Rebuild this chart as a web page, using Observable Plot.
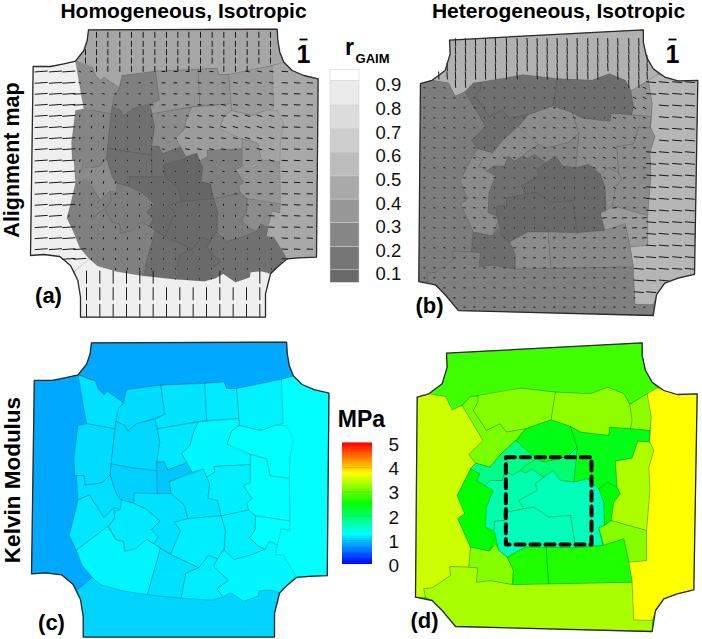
<!DOCTYPE html>
<html><head><meta charset="utf-8">
<script src="https://cdn.jsdelivr.net/npm/d3@7"></script>
<script src="https://cdn.jsdelivr.net/npm/@observablehq/plot@0.6"></script>
<style>html,body{margin:0;background:#fff}svg{display:block}</style>
</head><body><div id="chart"></div>
<script>
// ---- Tissue outlines (crop units)
const outlineA=[[204,88],[770,86],[772,120],[778,155],[790,185],[815,210],[850,225],[893,235],[888,770],[835,772],[800,775],[770,800],[750,820],[745,840],[735,880],[735,950],[180,950],[180,890],[172,840],[150,795],[118,768],[70,762],[30,765],[38,198],[90,198],[130,190],[165,182],[190,150],[200,120]];
const outlineB=[[138,68],[725,37],[725,75],[735,120],[755,155],[790,180],[830,192],[890,190],[880,778],[830,790],[790,805],[765,840],[755,903],[165,888],[125,840],[95,810],[45,800],[50,200],[85,190],[125,160],[140,110]];

// ---- Mesh A: the regions of panels (a) and (c)
const polygonsA=[
[[204,88],[770,86],[772,120],[778,155],[790,185],[755,195],[625,222],[595,222],[590,203],[405,212],[305,225],[295,262],[250,230],[240,240],[225,225],[215,200],[165,182],[190,150],[200,120]],
[[38,198],[90,198],[130,190],[165,182],[215,200],[210,400],[215,770],[162,813],[150,795],[118,768],[70,762],[30,765]],
[[162,813],[206,775],[250,790],[400,800],[600,800],[770,800],[750,820],[745,840],[735,880],[735,950],[180,950],[180,890],[172,840]],
[[755,195],[790,185],[815,210],[850,225],[893,235],[888,770],[835,772],[800,775],[770,800],[700,700],[700,400]],
[[165,182],[215,200],[225,225],[240,240],[250,230],[295,262],[275,318],[272,340],[190,325],[180,270]],
[[305,225],[405,212],[417,298],[385,310],[335,325],[310,347],[300,330],[275,318],[282,280],[298,265]],
[[405,212],[533,207],[538,315],[505,320],[395,340],[388,312],[417,298]],
[[533,207],[590,203],[595,222],[625,222],[632,310],[538,315]],
[[625,222],[755,195],[760,325],[735,330],[695,345],[632,330],[632,310]],
[[632,330],[695,345],[735,330],[770,330],[790,372],[780,420],[778,485],[722,478],[712,428],[665,415],[615,398],[597,385],[610,347]],
[[513,320],[632,310],[632,330],[610,347],[597,385],[665,415],[665,445],[560,450],[562,467],[538,482],[528,458],[495,468],[465,412],[490,388],[498,355]],
[[395,340],[513,320],[498,355],[490,388],[465,412],[480,440],[425,460],[415,437],[393,437],[402,380]],
[[165,330],[190,325],[272,340],[258,475],[235,498],[185,505],[183,477],[155,477],[153,425]],
[[275,318],[300,330],[310,347],[335,325],[388,312],[402,380],[393,437],[395,463],[328,455],[261,443],[272,340]],
[[261,443],[328,455],[395,463],[395,530],[328,528],[325,558],[290,548],[275,530],[258,475]],
[[393,437],[415,437],[425,460],[480,440],[495,465],[430,495],[435,530],[395,530]],
[[430,495],[528,458],[547,500],[542,543],[570,550],[580,595],[483,603],[473,563],[435,530]],
[[560,450],[665,445],[665,497],[645,507],[670,545],[655,558],[660,578],[580,595],[570,550],[542,543],[547,500],[538,482],[562,467]],
[[665,415],[712,428],[722,478],[778,485],[780,610],[680,595],[660,578],[655,558],[670,545],[645,507],[665,497]],
[[680,595],[780,610],[778,638],[755,632],[743,680],[720,670],[708,693],[688,683],[662,660],[678,637]],
[[580,595],[660,578],[680,595],[678,637],[662,660],[688,683],[708,693],[665,710],[618,723],[590,697],[592,637]],
[[588,694],[618,723],[665,710],[708,693],[720,670],[743,680],[738,708],[760,710],[797,770],[770,800],[752,820],[722,812],[690,815],[688,830],[645,845],[608,820],[585,833],[568,808],[601,784],[558,743],[569,721]],
[[483,603],[580,595],[592,637],[588,694],[569,721],[544,711],[515,747],[433,708],[462,638],[443,613]],
[[328,528],[395,530],[435,530],[473,563],[483,603],[443,613],[462,638],[433,708],[385,677],[397,657],[378,635],[403,610],[361,574],[325,558]],
[[290,548],[325,558],[361,574],[403,610],[378,635],[397,657],[385,677],[365,664],[333,692],[302,700],[298,670],[276,665],[254,627],[271,602],[270,582],[285,578]],
[[185,505],[235,498],[258,475],[275,530],[290,548],[288,576],[269,571],[240,600],[198,534],[165,548],[160,477],[183,477]],
[[165,548],[198,534],[240,600],[269,571],[271,602],[251,626],[160,696],[139,652],[151,608]],
[[160,696],[251,626],[274,665],[296,670],[300,699],[332,691],[364,664],[385,677],[404,690],[366,826],[288,813],[230,796],[206,775],[177,740]],
[[404,690],[433,708],[515,747],[478,763],[464,836],[366,826]],
[[515,747],[544,711],[569,721],[558,743],[601,784],[568,808],[585,833],[551,842],[464,836],[478,763]]
];
const rGaimA=[.45,.92,.92,.46,.27,.2,.33,.33,.37,.43,.38,.27,.23,.1,.09,.09,.03,.2,.33,.27,.18,.1,.06,.06,.18,.27,.2,.2,.08,.06];
const kelvinA=[.83,.83,1.04,1.25,1.1,1.08,1.12,1.15,1.18,1.25,1.21,1.13,1.08,1.06,1.02,.98,1.12,1.17,1.24,1.25,1.17,1.21,1.16,1.1,1.15,1.09,1.13,1.2,1.1,1.16];
const rotationA=[0,86,0,93,110,95,92,95,100,105,100,100,10,170,170,170,0,95,90,100,0,10,5,0,10,10,10,10,5,5];

// ---- Mesh B: the regions of panels (b) and (d)
const polygonsB=[
[[138,68],[725,37],[725,75],[735,120],[755,155],[770,172],[740,190],[688,222],[670,190],[622,170],[570,190],[465,185],[360,173],[325,185],[210,198],[185,225],[155,238],[135,198],[85,190],[125,160],[140,110]],
[[50,200],[85,190],[135,198],[155,238],[185,225],[248,330],[205,372],[225,398],[210,415],[170,495],[193,550],[172,565],[210,650],[205,710],[148,708],[150,735],[95,772],[70,775],[75,800],[45,800]],
[[70,775],[95,772],[150,735],[148,708],[205,710],[232,712],[228,755],[270,750],[335,762],[445,760],[695,755],[700,868],[755,870],[755,903],[165,888],[125,840],[95,810],[75,800]],
[[740,190],[770,172],[790,180],[830,192],[890,190],[880,778],[830,790],[790,805],[765,840],[755,870],[700,868],[695,755],[685,695],[738,690],[738,600],[748,480],[745,410],[760,360],[748,335],[752,260]],
[[232,195],[360,173],[465,185],[452,268],[375,295],[345,300],[318,305],[298,280],[258,300],[218,240],[232,215]],
[[465,185],[570,190],[622,170],[670,190],[688,222],[695,270],[690,295],[628,290],[625,315],[540,305],[510,288],[452,268]],
[[688,222],[740,190],[752,260],[748,300],[690,295],[695,270]],
[[185,225],[210,198],[232,197],[232,215],[218,240],[258,300],[298,280],[318,305],[345,300],[375,295],[345,330],[300,372],[268,410],[225,398],[205,372],[248,330]],
[[375,295],[452,268],[510,288],[530,350],[500,378],[432,395],[410,388],[380,370],[348,330]],
[[510,288],[540,305],[625,315],[628,290],[690,295],[748,300],[745,335],[712,332],[695,383],[645,392],[650,470],[620,455],[595,475],[560,445],[520,455],[530,350]],
[[268,410],[300,372],[345,330],[408,385],[375,405],[360,420],[335,435],[315,420],[305,450],[270,450],[252,465],[228,450],[238,430],[210,415],[225,398]],
[[408,385],[432,395],[500,378],[530,350],[520,455],[480,450],[458,420],[430,440],[408,425],[395,415],[375,428],[360,420],[375,405]],
[[210,415],[238,430],[228,450],[252,465],[278,480],[258,530],[255,590],[285,615],[267,662],[210,650],[172,565],[193,550],[170,495]],
[[252,465],[270,450],[305,450],[315,420],[335,435],[360,420],[375,428],[395,415],[408,425],[430,440],[405,460],[410,480],[355,510],[370,535],[310,547],[312,570],[283,572],[280,600],[255,590],[258,530],[278,480]],
[[430,440],[458,420],[480,450],[520,455],[560,445],[595,475],[610,515],[612,585],[595,592],[607,645],[525,652],[510,555],[445,560],[400,530],[370,535],[355,510],[410,480],[405,460]],
[[283,572],[312,570],[310,547],[370,535],[400,530],[445,560],[510,555],[525,652],[375,650],[320,680],[295,660],[285,615],[280,600]],
[[595,475],[620,455],[650,470],[660,490],[640,515],[632,570],[612,585],[610,515]],
[[712,332],[748,335],[760,360],[745,410],[748,480],[738,600],[632,570],[640,515],[660,490],[650,470],[645,392],[695,383]],
[[632,570],[738,600],[738,690],[685,695],[670,625],[610,645],[595,592],[612,585]],
[[320,680],[375,650],[437,650],[445,760],[338,762],[338,720]],
[[437,650],[525,652],[607,645],[670,625],[685,695],[695,755],[445,760]],
[[210,650],[267,662],[285,640],[295,660],[320,680],[338,720],[335,762],[270,750],[228,755],[232,712],[205,710]]
];
const rGaimB=[.52,.18,.2,.55,.1,.08,.33,.08,.27,.27,.27,.23,.27,.1,.05,.05,.27,.27,.37,.27,.26,.08];
const kelvinB=[2.81,3.5,3.33,3.75,3.15,3.2,3.2,3.1,2.4,2.4,1.83,1.95,2.5,1.65,1.6,1.6,2.5,3.35,3.15,2.65,2.65,3.15];
const rotationB=[-3,100,92,95,100,100,115,100,100,110,100,100,95,100,95,95,120,90,85,88,85,90];

// ---- Alignment-dash sampling rows and columns (crop units)
const topRowsA=[103,130,155,180,205];
const topColsA=[195,228,262,298,333,368,403,438,472,505,540,575,610,645,680,715,750];
const midRowsA=[213,247,280,313,346,380,413,446,480,513,546,580,613,646,680,713,746,775,805,835];
const midColsA=[62,105,145,178,213,249,285,321,357,393,429,465,501,537,573,609,645,681,717,753,793,830,868];
const lowRowsA=[830,880,930];
const lowColsA=[198,238,278,318,358,398,438,478,518,558,598,638,678,718];
const topRowsB=[125,150,175,200,225,250];
const topColsB=[115,140,165,195,225,255,285,318,350,380,410,440,470,500,530,562,592,622,652,685,715,740];
const midRowsB=[262,292,322,352,382,412,442,472,502,532,562,592,622,652,682,712,742,772,802,832,862,892,920];
const midColsB=[72,102,132,162,192,222,252,282,312,342,372,402,432,462,492,522,552,582,612,642,672,702,732];
const rightRowsB=[245,280,315,350,385,420,455,490,525,560,595,630,665,700,735,770,805,840,875];
const rightColsB=[715,752,790,830,868];

// ---- Legends
const gaimTicks=[.9,.8,.7,.6,.5,.4,.3,.2,.1];
const gaimEdges=[.966,.918,.815,.715,.616,.515,.417,.317,.216,.12,.065];
const gaimGreys=["#ffffff","#ebebeb","#dcdcdc","#cecece","#bcbcbc","#a9a9a9","#989898","#868686","#767676","#6a6a6a"];
const kelvinTicks=[5,4,3,2,1,0];
const kelvinGrid=[1,2,3,4];
const kelvinStops=[0,1.25,2.5,3.75,5];
const kelvinColors=["#0000ff","#00ffff","#00ff00","#ffff00","#ff0000"];
const dashedBox=[[316,380],[573,380],[573,642],[316,642],[316,380]];

// ---- Crop units to picture units for each panel
const panelA=([x,y])=>[20+x/3,y/3];
const panelC=([x,y])=>[20+(213+(x-204)*1.034)/3,330+(37+(y-88)*1.024)/3];
const panelB=([x,y])=>[400+(147+(x-138)/1.0094)/3,(88+(y-37)/1.0105)/3];
const panelD=([x,y])=>[400+x/3,330+y/3];
const bToD=(x,y)=>[138+(x-147)*1.0094,37+(y-88)*1.0105];

const grey=r=>{const g=Math.min(255,Math.round(97+154*r));return `rgb(${g},${g},${g})`};
const rows=(polys,vals,panel)=>polys.flatMap((p,i)=>[...p,p[0]].map(q=>{const [x,y]=panel(q);return {x,y,id:i,v:vals[i]}}));
const ring=(p,panel)=>[...p,p[0]].map(q=>{const [x,y]=panel(q);return {x,y}});
const dashLen=d3.scaleLinear([.03,.27,.45,.52,.55,.92],[1,2.6,6,8,10,13]);
function lattice(ys,xs,polys,rs,rot,panel,keep,toMesh){
  const out=[];
  for(const y of ys)for(const x of xs){
    const m=toMesh?toMesh(x,y):[x,y];
    if(!d3.polygonContains(panel.outline,m))continue;
    let z=-1;
    polys.forEach((p,i)=>{if(d3.polygonContains(p,m))z=i});
    if(z<0||!keep(z))continue;
    const [px,py]=panel.map([x,y]);
    const L=dashLen(rs[z])/2,t=rot[z]*Math.PI/180;
    out.push({x1:px-L*Math.sin(t),y1:py+L*Math.cos(t),x2:px+L*Math.sin(t),y2:py-L*Math.cos(t)});
  }
  return out;
}
const bRaw=([x,y])=>[400+x/3,y/3];
const dashesA=[
 ...lattice(topRowsA,topColsA,polygonsA,rGaimA,rotationA,{outline:outlineA,map:panelA},z=>z===0),
 ...lattice(midRowsA,midColsA,polygonsA,rGaimA,rotationA,{outline:outlineA,map:panelA},z=>z!==0&&z!==2),
 ...lattice(lowRowsA,lowColsA,polygonsA,rGaimA,rotationA,{outline:outlineA,map:panelA},z=>z===2)
];
const dashesB=[
 ...lattice(topRowsB,topColsB,polygonsB,rGaimB,rotationB,{outline:outlineB,map:bRaw},z=>z===0,bToD),
 ...lattice(midRowsB,midColsB,polygonsB,rGaimB,rotationB,{outline:outlineB,map:bRaw},z=>z!==0&&z!==3,bToD),
 ...lattice(rightRowsB,rightColsB,polygonsB,rGaimB,rotationB,{outline:outlineB,map:bRaw},z=>z===3,bToD)
];

const region=(data,fill,o=.3)=>Plot.line(data,{x:"x",y:"y",z:"id",fill,stroke:"#000",strokeOpacity:o,strokeWidth:.6});
const edge=data=>Plot.line(data,{x:"x",y:"y",stroke:"#2a2a2a",strokeWidth:1.3});
const under=(data,fill)=>Plot.line(data,{x:"x",y:"y",fill,stroke:"none"});
const greyFill=d=>grey(d.v);

const gaimY=d3.scaleLinear([.1,.9],[274,85]);
const kelvinY=d3.scaleLinear([0,5],[564,443]);
const gaimBands=gaimGreys.map((c,i)=>({c,hi:gaimEdges[i],lo:gaimEdges[i+1]}));
const kelvinBands=d3.range(0,5,.05);
const ff="Liberation Sans";
const label=(t,x,y,size,o={})=>Plot.text([t],{x:()=>x,y:()=>y,text:d=>d,fontSize:size,fontWeight:"bold",fill:"#000",textAnchor:"middle",lineAnchor:"middle",...o});

const plot=Plot.plot({
  width:702,height:639,margin:0,
  style:{background:"#fff",fontFamily:ff},
  x:{domain:[0,702],range:[0,702],axis:null},
  y:{domain:[0,639],range:[0,639],axis:null},
  color:{type:"linear",domain:kelvinStops,range:kelvinColors},
  marks:[
    under(ring(outlineA,panelA),()=>grey(.2)),
    region(rows(polygonsA,rGaimA,panelA),greyFill,.16),
    Plot.link(dashesA,{x1:"x1",y1:"y1",x2:"x2",y2:"y2",stroke:"#1a1a1a",strokeWidth:1}),
    edge(ring(outlineA,panelA)),
    under(ring(outlineB,panelB),()=>grey(.2)),
    region(rows(polygonsB,rGaimB,panelB),greyFill,.16),
    Plot.link(dashesB,{x1:"x1",y1:"y1",x2:"x2",y2:"y2",stroke:"#1a1a1a",strokeWidth:1}),
    edge(ring(outlineB,panelB)),
    under(ring(outlineA,panelC),()=>1.1),
    region(rows(polygonsA,kelvinA,panelC),"v"),
    edge(ring(outlineA,panelC)),
    under(ring(outlineB,panelD),()=>2.5),
    region(rows(polygonsB,kelvinB,panelD),"v"),
    edge(ring(outlineB,panelD)),
    Plot.line(dashedBox.map(panelD).map(([x,y])=>({x,y})),{x:"x",y:"y",stroke:"#000",strokeWidth:4,strokeDasharray:"9 6"}),
    // grey legend
    Plot.rect(gaimBands,{x1:()=>330,x2:()=>359,y1:d=>gaimY(d.hi),y2:d=>gaimY(d.lo),fill:"c",stroke:"#cfcfcf",strokeWidth:.5}),
    Plot.text(gaimTicks,{x:()=>375,y:d=>gaimY(d),text:d=>d.toFixed(1),fontSize:18.5,fill:"#111",textAnchor:"start",lineAnchor:"middle"}),
    label("r",349,47,23),
    label("GAIM",372,58,13),
    // kelvin legend
    Plot.rect(kelvinBands,{x1:()=>342,x2:()=>372,y1:d=>kelvinY(d),y2:d=>kelvinY(d+.075),fill:d=>d+.025}),
    Plot.link(kelvinGrid,{x1:()=>342,x2:()=>372,y1:d=>kelvinY(d),y2:d=>kelvinY(d),stroke:"#000",strokeOpacity:.18,strokeWidth:.6}),
    Plot.text(kelvinTicks,{x:()=>388,y:d=>kelvinY(d)+1.5,text:String,fontSize:19,fill:"#111",textAnchor:"start",lineAnchor:"middle"}),
    label("MPa",361,419,23),
    // titles
    label("Homogeneous, Isotropic",183,11,21),
    label("Heterogeneous, Isotropic",558,11,21),
    label("Alignment map",12,159.5,21.5,{rotate:-90}),
    label("Kelvin Modulus",12,479.5,22.5,{rotate:-90}),
    label("(a)",48,295,22),
    label("(b)",429,305,22),
    label("(c)",51,622,22),
    label("(d)",424,620,22),
    label("1",303,54,25),
    label("1",672,54,25),
    Plot.link([[299,307],[668,676]],{x1:d=>d[0],x2:d=>d[1],y1:()=>39,y2:()=>39,stroke:"#000",strokeWidth:1.8})
  ]
});
document.getElementById("chart").append(plot);
</script>
</body></html>
